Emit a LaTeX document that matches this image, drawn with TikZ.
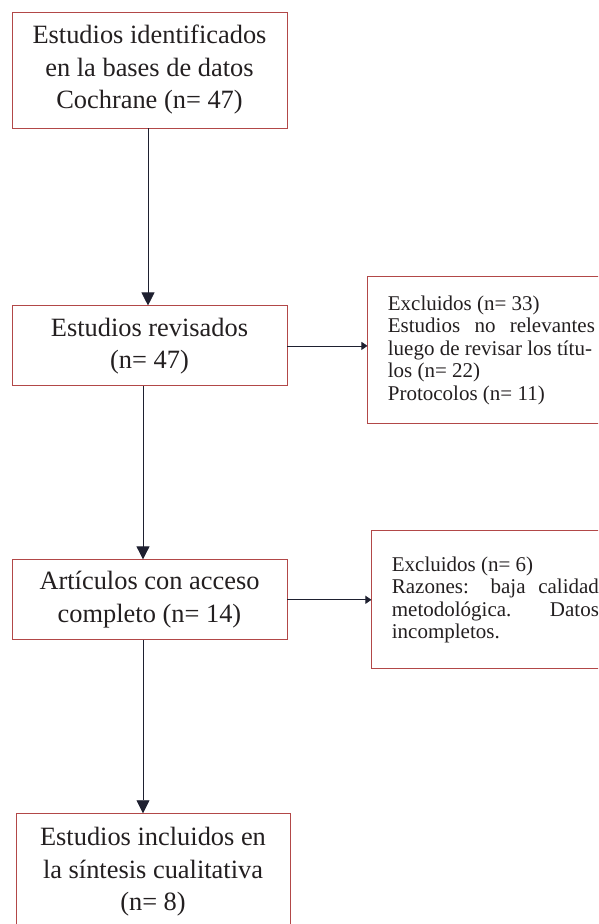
\documentclass[tikz,border=0pt]{standalone}
\usepackage{fontspec}
\setmainfont{Liberation Serif}
\usepackage{tikz}
\usetikzlibrary{arrows.meta,positioning}
\definecolor{frame}{RGB}{178,72,72}
\definecolor{wire}{RGB}{30,32,48}
\definecolor{ink}{RGB}{35,31,32}

\begin{document}
\begin{tikzpicture}[
  box/.style={draw=frame,line width=0.9pt,align=center,text=ink,minimum width=275pt,inner sep=4pt,font=\fontsize{26.4}{32.5}\selectfont},
  note/.style={draw=frame,line width=0.9pt,align=justify,text=ink,text width=207pt,inner xsep=20pt,inner ysep=4pt,font=\fontsize{21}{22.5}\selectfont},
  arr/.style={-{Triangle[length=13pt,width=13pt]},wire,line width=0.8pt},
  arrh/.style={-{Triangle[length=6pt,width=8pt]},wire,line width=0.8pt}]
  \useasboundingbox (0,0) rectangle (598pt,-924pt);
  \clip (0,0) rectangle (598pt,-924pt);
  \node[box,minimum height=116pt] (ident) at (149.5pt,-70pt) {Estudios identificados\\en la bases de datos\\Cochrane (n= 47)};
  \node[box,minimum height=80pt,below=177pt of ident] (rev) {Estudios revisados\\(n= 47)};
  \node[note,minimum height=147pt,right=80pt of rev,yshift=-4.5pt] (excl) {Excluidos (n= 33)\\Estudios no relevantes\linebreak luego de revisar los títu-\\los (n= 22)\\Protocolos (n= 11)};
  \node[box,minimum height=80pt,below=173pt of rev] (art) {Artículos con acceso\\completo (n= 14)};
  \node[note,minimum height=138pt,right=84pt of art] (razon) {Excluidos (n= 6)\\Razones: baja calidad\linebreak metodológica. Datos\linebreak incompletos.};
  \node[box,minimum width=274pt,minimum height=116pt,below=173pt of art,xshift=3.5pt] (incl) {Estudios incluidos en\\la síntesis cualitativa\\(n= 8)};
  \draw[arr] ([xshift=-1.5pt]ident.south) -- ([xshift=-1.5pt]rev.north);
  \draw[arrh] (rev.east) -- (rev.east -| excl.west);
  \draw[arr] ([xshift=-6.5pt]rev.south) -- ([xshift=-6.5pt]art.north);
  \draw[arrh] (art.east) -- (razon.west);
  \draw[arr] ([xshift=-6.5pt]art.south) -- ([xshift=-6.5pt]art.south |- incl.north);
\end{tikzpicture}
\end{document}
